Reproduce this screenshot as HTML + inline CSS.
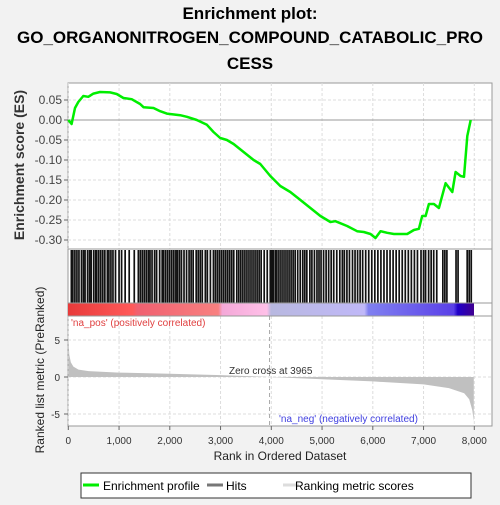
<!DOCTYPE html>
<html><head><meta charset="utf-8"><style>
body{margin:0;background:#f2f2f2;font-family:"Liberation Sans",sans-serif}
svg text{font-family:"Liberation Sans",sans-serif}
</style></head><body>
<svg id="c" width="500" height="500" viewBox="0 0 500 500" xmlns="http://www.w3.org/2000/svg">
<defs>
<linearGradient id="cb" x1="0" x2="1" y1="0" y2="0">
<stop offset="0" stop-color="#e83a3a"/><stop offset="0.16" stop-color="#ff5a5a"/><stop offset="0.17" stop-color="#f06070"/><stop offset="0.37" stop-color="#f88080"/><stop offset="0.38" stop-color="#f4a8d8"/><stop offset="0.49" stop-color="#ffc0e8"/><stop offset="0.5" stop-color="#b8b8e0"/><stop offset="0.73" stop-color="#c0b8f8"/><stop offset="0.74" stop-color="#8080f0"/><stop offset="0.95" stop-color="#5a40e8"/><stop offset="0.96" stop-color="#2000c8"/><stop offset="1" stop-color="#400090"/>
</linearGradient>
</defs>
<text x="250" y="19" text-anchor="middle" font-size="17" font-weight="bold">Enrichment plot:</text>
<text x="250" y="43" text-anchor="middle" font-size="17" font-weight="bold">GO_ORGANONITROGEN_COMPOUND_CATABOLIC_PRO</text>
<text x="250" y="69" text-anchor="middle" font-size="17" font-weight="bold">CESS</text>
<rect x="68" y="83" width="424" height="343" fill="#fff" stroke="#999"/>
<g id="grid"></g>
<g id="es"></g>
<g id="hits"></g>
<rect x="68" y="303" width="406" height="13" fill="url(#cb)"/>
<line x1="68" x2="492" y1="249" y2="249" stroke="#999"/>
<line x1="68" x2="492" y1="303" y2="303" stroke="#999"/>
<line x1="68" x2="492" y1="316" y2="316" stroke="#999"/>
<g id="metric"></g>
<text x="71" y="326" font-size="10" fill="#e04040">'na_pos' (positively correlated)</text>
<text x="279" y="422" font-size="10" fill="#4040e0">'na_neg' (negatively correlated)</text>
<text x="229" y="374" font-size="10" fill="#333">Zero cross at 3965</text>
<text transform="translate(24,165) rotate(-90)" text-anchor="middle" font-size="14" font-weight="bold" fill="#333">Enrichment score (ES)</text>
<text transform="translate(44,370) rotate(-90)" text-anchor="middle" font-size="12" fill="#222">Ranked list metric (PreRanked)</text>
<text x="280" y="460" text-anchor="middle" font-size="12" fill="#222">Rank in Ordered Dataset</text>
<g>
<rect x="81" y="473" width="390" height="25" fill="#fff" stroke="#333"/>
<line x1="83" x2="99" y1="485" y2="485" stroke="#00ee00" stroke-width="3"/>
<text x="103" y="490" font-size="12">Enrichment profile</text>
<line x1="207" x2="223" y1="485" y2="485" stroke="#777" stroke-width="3"/>
<text x="226" y="490" font-size="12">Hits</text>
<line x1="283" x2="299" y1="485" y2="485" stroke="#ddd" stroke-width="3"/>
<text x="295" y="490" font-size="12">Ranking metric scores</text>
</g>
</svg>
<script>
const esRanks=[0,66,132,197,296,395,494,625,823,954,1086,1250,1415,1481,1678,1810,1941,2204,2336,2533,2731,2862,2994,3125,3257,3454,3652,3783,3981,4178,4375,4573,4770,4968,5165,5264,5494,5691,5823,5955,6053,6152,6283,6415,6678,6809,6908,6974,7040,7106,7204,7303,7435,7567,7632,7731,7797,7863,7929];
const esValues=[0,-0.01,0.03,0.045,0.06,0.058,0.066,0.07,0.069,0.065,0.055,0.052,0.04,0.032,0.03,0.022,0.016,0.012,0.008,0,-0.012,-0.03,-0.045,-0.05,-0.06,-0.08,-0.1,-0.11,-0.14,-0.165,-0.18,-0.2,-0.22,-0.24,-0.255,-0.253,-0.265,-0.278,-0.28,-0.285,-0.295,-0.278,-0.282,-0.285,-0.285,-0.275,-0.272,-0.24,-0.24,-0.21,-0.21,-0.22,-0.158,-0.18,-0.13,-0.14,-0.142,-0.04,0.0];
const hitRanks=[60,90,130,170,210,260,300,330,380,420,450,500,540,560,600,640,680,720,770,800,840,880,930,1000,1050,1120,1200,1300,1380,1420,1460,1500,1540,1580,1610,1650,1700,1740,1800,1850,1880,1920,1960,2000,2040,2080,2120,2150,2190,2230,2280,2330,2380,2420,2460,2520,2560,2600,2640,2700,2740,2800,2860,2900,2940,2980,3020,3060,3100,3140,3180,3220,3260,3320,3360,3400,3440,3480,3520,3560,3600,3640,3680,3720,3760,3800,3860,3920,3980,4010,4040,4080,4110,4150,4190,4230,4270,4310,4350,4390,4430,4470,4520,4570,4620,4660,4700,4760,4800,4850,4900,4940,4980,5030,5080,5130,5180,5230,5290,5350,5400,5440,5490,5540,5600,5650,5700,5750,5800,5860,5920,5980,6040,6100,6160,6220,6280,6340,6400,6460,6520,6580,6640,6700,6760,6820,6880,6950,7000,7040,7100,7150,7200,7260,7380,7420,7460,7640,7680,7860,7900,7940];
const metricRanks=[0,20,50,100,200,400,1000,2000,3000,3965,5000,6000,7000,7500,7800,7900,7960,7990];
const metricValues=[5.5,3,2,1.4,1.0,0.8,0.6,0.45,0.25,0,-0.3,-0.6,-1.0,-1.5,-2.2,-3,-4.5,-6];
const xTicks=[0,1000,2000,3000,4000,5000,6000,7000,8000];
const esTicks=[0.05,0,-0.05,-0.1,-0.15,-0.2,-0.25,-0.3];
const metricTicks=[5,0,-5];
const NS="http://www.w3.org/2000/svg";
const X=r=>68.3+r*0.05075;
const YE=v=>120-v*400;
const YM=v=>377-v*7.4;
function mk(tag,attrs,parent){const e=document.createElementNS(NS,tag);for(const k in attrs)e.setAttribute(k,attrs[k]);parent.appendChild(e);return e;}
const grid=document.getElementById('grid');
xTicks.forEach(t=>{
  const x=X(t);
  const g=mk('line',{x1:x,x2:x,y1:83,y2:249,stroke:'#ddd','stroke-dasharray':'3,2'},grid);
  
  
  mk('line',{x1:x,x2:x,y1:316,y2:426,stroke:'#ddd','stroke-dasharray':'3,2'},grid);
  mk('line',{x1:x,x2:x,y1:426,y2:430,stroke:'#666'},grid);
  const tx=mk('text',{x:x,y:444,'text-anchor':'middle','font-size':'10',fill:'#333'},grid);
  tx.textContent=t.toLocaleString('en-US');
  
  
});
esTicks.forEach(t=>{
  const y=YE(t);
  mk('line',{x1:68,x2:492,y1:y,y2:y,stroke:t===0?'#999':'#ddd','stroke-dasharray':t===0?'':'3,2'},grid);
  mk('line',{x1:64,x2:68,y1:y,y2:y,stroke:'#666'},grid);
  const tx=mk('text',{x:62,y:y+4,'text-anchor':'end','font-size':'12',fill:'#444'},grid);
  tx.textContent=t.toFixed(2);
  
  
});
metricTicks.forEach(t=>{
  const y=YM(t);
  mk('line',{x1:68,x2:492,y1:y,y2:y,stroke:'#ddd','stroke-dasharray':'3,2'},grid);
  mk('line',{x1:64,x2:68,y1:y,y2:y,stroke:'#666'},grid);
  const tx=mk('text',{x:60,y:y+4,'text-anchor':'end','font-size':'10',fill:'#333'},grid);
  tx.textContent=t;
  
  
});
mk('line',{x1:X(3965),x2:X(3965),y1:316,y2:426,stroke:'#aaa','stroke-dasharray':'4,3'},grid);
const esPath=esRanks.map((r,i)=>(i?'L':'M')+X(r).toFixed(1)+','+YE(esValues[i]).toFixed(1)).join(' ');
const esl=mk('path',{d:esPath,fill:'none',stroke:'#00ee00','stroke-width':'2.5','stroke-linejoin':'round'},document.getElementById('es'));


const hg=document.getElementById('hits');
hitRanks.forEach(r=>{
  const l=mk('line',{x1:X(r),x2:X(r),y1:250,y2:303,stroke:'#111','stroke-width':'1.7'},hg);
  
  
});
let d='M'+X(metricRanks[0])+','+YM(0);
metricRanks.forEach((r,i)=>{d+=' L'+X(r).toFixed(1)+','+YM(metricValues[i]).toFixed(1);});
d+=' L'+X(metricRanks[metricRanks.length-1])+','+YM(0)+' Z';
const ma=mk('path',{d:d,fill:'#c0c0c0',stroke:'none'},document.getElementById('metric'));


</script>
</body></html>
